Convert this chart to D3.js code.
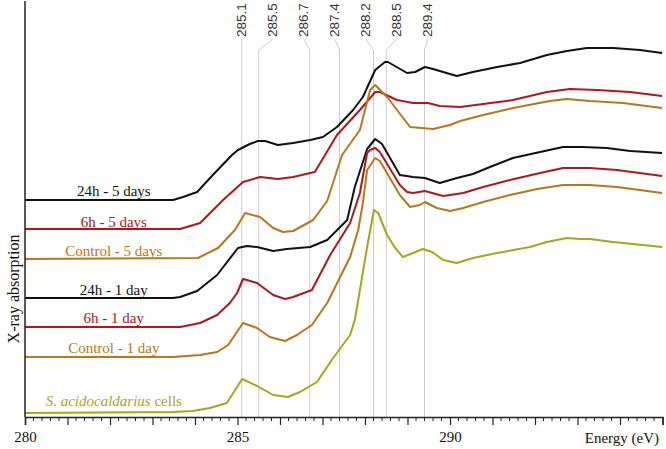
<!DOCTYPE html>
<html>
<head>
<meta charset="utf-8">
<script src="https://cdn.jsdelivr.net/npm/d3@7"></script>
<style>
  body { margin: 0; background: #fff; }
  svg { display: block; }
  svg text.serif { font-family: "Times New Roman", Times, Tinos, "Liberation Serif", "DejaVu Serif", serif; }
  svg text.sans { font-family: Arial, "Liberation Sans", "DejaVu Sans", sans-serif; }
</style>
</head>
<body>
<div id="wrapper"></div>
<script>
// peak positions marked at the top (eV)
const peakLabels = [285.1, 285.5, 286.7, 287.4, 288.2, 288.5, 289.4]

// spectra: [energy (eV), absorption (a.u., stacked)]
const s24h5d = [[280.00,217],[283.48,217],[283.72,220],[284.05,225],[284.42,242],[284.87,262],[285.01,267],[285.29,273],[285.48,276],[285.65,276],[285.95,272],[286.31,274],[286.71,277],[287.01,280],[287.34,290],[287.72,307],[287.95,320],[288.24,347],[288.47,355],[288.54,355],[288.99,344],[289.18,345],[289.41,350],[289.60,348],[290.00,343],[290.16,341],[290.54,345],[291.11,350],[291.65,354],[292.28,362],[292.75,366],[293.22,369],[293.84,369],[294.47,367],[294.99,364]]
const s6h5d = [[280.00,188],[283.65,188],[284.12,194],[284.66,217],[285.13,235],[285.53,240],[285.95,238],[286.31,240],[286.71,244],[286.82,245],[287.34,282],[287.88,307],[288.24,325],[288.35,325],[288.75,317],[289.13,314],[289.48,314],[289.76,311],[290.24,310],[290.78,313],[291.48,317],[292.28,325],[292.82,328],[293.46,327],[294.24,325],[294.99,321]]
const sCtrl5d = [[280.00,158],[284.07,159],[284.54,169],[284.94,187],[285.18,204],[285.53,200],[285.84,189],[286.07,185],[286.31,186],[286.78,197],[287.11,216],[287.46,262],[287.88,287],[288.12,327],[288.24,332],[288.52,320],[289.06,290],[289.60,288],[290.00,292],[290.24,296],[290.78,302],[291.48,309],[292.35,316],[292.75,318],[293.29,316],[294.07,314],[294.99,309]]
const s24h1d = [[280.00,119],[283.48,119],[283.65,120],[284.05,126],[284.52,142],[285.01,169],[285.22,171],[285.46,170],[285.84,166],[286.16,168],[286.71,170],[287.11,177],[287.58,197],[287.76,230],[288.05,268],[288.24,278],[288.40,273],[288.82,242],[289.13,240],[289.41,239],[289.76,234],[290.16,239],[290.54,243],[290.94,250],[291.48,259],[292.12,265],[292.66,270],[293.11,270],[293.69,269],[294.24,266],[294.99,264]]
const s6h1d = [[280.00,90],[283.65,90],[284.12,94],[284.52,102],[284.82,114],[284.99,124],[285.13,138],[285.22,137],[285.46,134],[285.84,122],[286.12,118],[286.31,120],[286.75,127],[287.18,162],[287.65,194],[287.88,224],[288.05,264],[288.12,267],[288.24,269],[288.35,265],[288.82,232],[288.99,225],[289.13,224],[289.41,226],[289.84,221],[290.31,224],[290.78,230],[291.41,237],[292.12,244],[292.66,249],[293.29,249],[293.93,247],[294.99,241]]
const sCtrl1d = [[280.00,60],[283.48,60],[284.12,62],[284.52,65],[284.78,72],[285.13,94],[285.46,89],[285.76,80],[286.12,76],[286.40,82],[286.75,92],[287.11,114],[287.65,160],[287.84,187],[287.95,214],[288.05,247],[288.24,259],[288.35,256],[288.82,222],[289.06,210],[289.29,212],[289.41,215],[289.69,209],[290.00,206],[290.31,209],[290.78,215],[291.41,222],[292.05,228],[292.66,232],[293.29,232],[293.93,230],[294.99,224]]
const sCells = [[280.00,4],[283.48,5],[283.95,6],[284.35,9],[284.75,14],[285.11,38],[285.46,31],[285.84,22],[286.19,20],[286.47,25],[286.87,35],[287.25,59],[287.65,82],[287.76,97],[287.88,127],[288.05,170],[288.21,207],[288.31,204],[288.52,182],[288.71,169],[288.89,160],[289.13,164],[289.36,168],[289.58,165],[289.84,157],[290.16,154],[290.54,159],[291.11,164],[291.88,170],[292.28,175],[292.75,179],[293.06,178],[293.29,178],[293.84,175],[294.99,170]]

const seriesNames = ["24h - 5 days", "6h - 5 days", "Control - 5 days", "24h - 1 day", "6h - 1 day", "Control - 1 day", "cells"]
const seriesData = [s24h5d, s6h5d, sCtrl5d, s24h1d, s6h1d, sCtrl1d, sCells]
const seriesColors = ["#111111", "#b3151c", "#b8771c", "#111111", "#b3151c", "#b8771c", "#a6a61a"]
// label baseline sits a little above the flat pre-edge
const labelLift = [4, 2, 3, 3, 4, 4, 7]

const width = 666
const height = 449
const margin = {top: 1, right: 4, bottom: 32, left: 25}
const boundedH = height - margin.top - margin.bottom

const svg = d3.select("#wrapper").append("svg")
  .attr("width", width)
  .attr("height", height)

const x = d3.scaleLinear().domain([280, 295]).range([margin.left, margin.left + 637.5])
const y = d3.scaleLinear().domain([0, 416]).range([margin.top + boundedH, margin.top])
const x0 = x(280), yBase = y(0)

// peak guide lines + labels
const labelStep = 31
const guides = svg.append("g")
peakLabels.forEach((p, i) => {
  const lx = x(peakLabels[0]) + i * labelStep
  const gx = x(p)
  guides.append("path")
    .attr("d", `M${lx},39 L${gx},50 L${gx},${yBase}`)
    .attr("fill", "none")
    .attr("stroke", "#cccccc")
    .attr("stroke-width", 1)
  guides.append("text")
    .attr("class", "sans")
    .attr("transform", `translate(${lx},37) rotate(-90)`)
    .attr("dy", "0.35em")
    .attr("font-size", 13.5)
    .attr("fill", "#333")
    .text(p.toFixed(1))
})

// spectra
const line = d3.line()
  .x(d => x(d[0]))
  .y(d => y(d[1]))

seriesData.forEach((s, i) => {
  svg.append("path")
    .attr("d", line(s))
    .attr("fill", "none")
    .attr("stroke", seriesColors[i])
    .attr("stroke-width", 2)
    .attr("stroke-linejoin", "round")
})

// curve labels
seriesData.forEach((s, i) => {
  const t = svg.append("text")
    .attr("class", "serif")
    .attr("x", x(282.09))
    .attr("y", y(s[0][1]) - labelLift[i])
    .attr("text-anchor", "middle")
    .attr("font-size", 15)
    .attr("fill", seriesColors[i])
  if (seriesNames[i] === "cells") {
    t.append("tspan").attr("font-style", "italic").text("S. acidocaldarius")
    t.append("tspan").text(" cells")
  } else {
    t.text(seriesNames[i])
  }
})

// x axis
const majorTicks = d3.range(280, 295.01, 1)
const minorTicks = d3.range(280, 295.01, 0.2).filter(v => Math.abs(v - Math.round(v)) > 0.01)

const xAxis = svg.append("g")
  .attr("transform", `translate(0,${yBase})`)
  .call(d3.axisBottom(x)
    .tickValues(majorTicks)
    .tickSize(8)
    .tickPadding(6)
    .tickFormat(d => [280, 285, 290].includes(d) ? d : ""))
xAxis.attr("font-family", null).attr("font-size", null)
xAxis.select(".domain").attr("stroke", "#222").attr("stroke-width", 1.5)
xAxis.selectAll(".tick line").attr("stroke", "#222").attr("stroke-width", 1.2)
xAxis.selectAll(".tick text")
  .attr("class", "serif")
  .attr("font-size", 15)
  .attr("fill", "#111")

xAxis.selectAll(".minor")
  .data(minorTicks)
  .join("line")
  .attr("class", "minor")
  .attr("x1", d => x(d))
  .attr("x2", d => x(d))
  .attr("y1", 0)
  .attr("y2", 4)
  .attr("stroke", "#222")
  .attr("stroke-width", 1)

svg.append("text")
  .attr("class", "serif")
  .attr("x", 659)
  .attr("y", 443)
  .attr("text-anchor", "end")
  .attr("font-size", 15)
  .attr("fill", "#111")
  .text("Energy (eV)")

// y spine, no ticks
svg.append("line")
  .attr("x1", x0).attr("x2", x0)
  .attr("y1", margin.top).attr("y2", yBase)
  .attr("stroke", "#222")
  .attr("stroke-width", 1.5)

svg.append("text")
  .attr("class", "serif")
  .attr("transform", `translate(13,289) rotate(-90)`)
  .attr("text-anchor", "middle")
  .attr("dy", "0.35em")
  .attr("font-size", 16)
  .attr("fill", "#111")
  .text("X-ray absorption")
</script>
</body>
</html>
